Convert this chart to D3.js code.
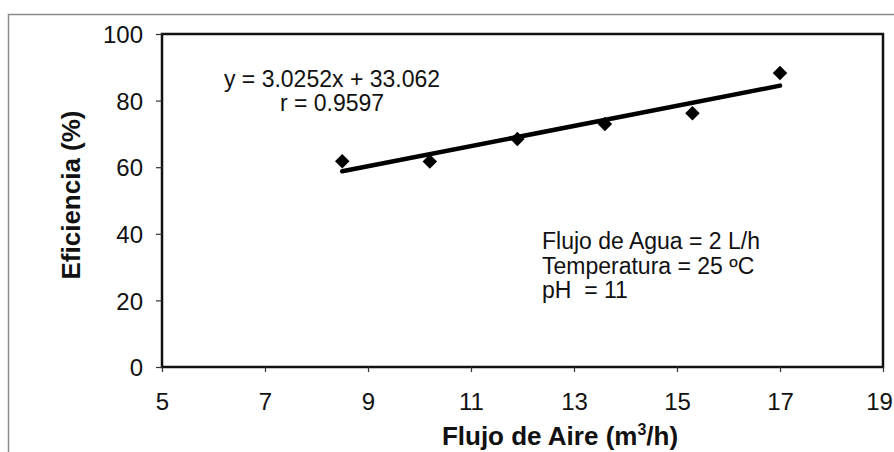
<!DOCTYPE html>
<html>
<head>
<meta charset="utf-8">
<script src="https://cdn.jsdelivr.net/npm/d3@7"></script>
<style>
  html, body { margin: 0; padding: 0; background: #fff; }
  svg { display: block; }
  text { font-family: "Liberation Sans", Arial, sans-serif; fill: #111; }
</style>
</head>
<body>
<svg id="chart" width="894" height="452"></svg>
<script>
// ---- data ----
const airFlow = [8.5, 10.2, 11.9, 13.6, 15.3, 17.0];
const efficiency = [61.8, 61.7, 68.5, 73.0, 76.2, 88.3];
const slope = 3.0252;
const intercept = 33.062;
const xTicks = [5, 7, 9, 11, 13, 15, 17, 19];
const yTicks = [0, 20, 40, 60, 80, 100];
const equationLines = ["y = 3.0252x + 33.062", "r = 0.9597"];
const conditionLines = ["Flujo de Agua = 2 L/h", "Temperatura = 25 ºC", "pH  = 11"];

const svg = d3.select("#chart");
const W = 894, H = 452;
const plot = { left: 162, right: 883, top: 34, bottom: 367 };

const x = d3.scaleLinear().domain([5, 19]).range([plot.left, plot.right]);
const y = d3.scaleLinear().domain([0, 100]).range([plot.bottom, plot.top]);

// outer frame
svg.append("rect")
  .attr("x", 8.5).attr("y", 14.5)
  .attr("width", W + 10).attr("height", H + 10)
  .attr("fill", "none").attr("stroke", "#8a8a8a").attr("stroke-width", 1.5);

// plot border
svg.append("rect")
  .attr("x", plot.left).attr("y", plot.top)
  .attr("width", plot.right - plot.left).attr("height", plot.bottom - plot.top)
  .attr("fill", "none").attr("stroke", "#111").attr("stroke-width", 2.5);

// y axis
const yAxis = svg.append("g")
  .attr("transform", `translate(${plot.left},0)`)
  .call(d3.axisLeft(y).tickValues(yTicks).tickSize(6).tickPadding(13).tickFormat(d3.format("d")));
yAxis.select(".domain").remove();
yAxis.selectAll(".tick line").attr("stroke", "#333").attr("stroke-width", 1.2);
yAxis.selectAll(".tick text")
  .attr("font-size", 24).attr("font-family", "Liberation Sans, Arial, sans-serif")
  .attr("fill", "#111").attr("dy", "0.36em");

// x axis
const xAxis = svg.append("g")
  .attr("transform", `translate(0,${plot.bottom})`)
  .call(d3.axisBottom(x).tickValues(xTicks).tickSize(5).tickFormat(d3.format("d")));
xAxis.select(".domain").remove();
xAxis.selectAll(".tick line").attr("stroke", "#333").attr("stroke-width", 1.2);
xAxis.selectAll(".tick text")
  .attr("font-size", 24).attr("font-family", "Liberation Sans, Arial, sans-serif")
  .attr("fill", "#111").attr("y", 43).attr("dy", 0)
  .attr("dx", d => d === 19 ? -4 : 0);

// axis titles
svg.append("text")
  .attr("x", 560).attr("y", 445)
  .attr("text-anchor", "middle")
  .attr("font-size", 26).attr("font-weight", "bold")
  .call(t => {
    t.append("tspan").text("Flujo de Aire (m");
    t.append("tspan").attr("font-size", 16).attr("dy", -10).text("3");
    t.append("tspan").attr("dy", 10).text("/h)");
  });

svg.append("text")
  .attr("transform", `translate(80,${(108 + 282) / 2}) rotate(-90)`)
  .attr("text-anchor", "middle")
  .attr("font-size", 26).attr("font-weight", "bold")
  .text("Eficiencia (%)");

// trend line
const trend = [airFlow[0], airFlow[airFlow.length - 1]].map(v => [v, slope * v + intercept]);
svg.append("path")
  .datum(trend)
  .attr("d", d3.line().x(d => x(d[0])).y(d => y(d[1])))
  .attr("fill", "none").attr("stroke", "#000").attr("stroke-width", 4.5)
  .attr("stroke-linecap", "round");

// points (diamonds)
svg.append("g").selectAll("path")
  .data(airFlow.map((v, i) => [v, efficiency[i]]))
  .join("path")
  .attr("d", d3.symbol().type(d3.symbolSquare).size(105))
  .attr("transform", d => `translate(${x(d[0])},${y(d[1])}) rotate(45)`)
  .attr("fill", "#000");

// equation annotation
svg.append("g").selectAll("text")
  .data(equationLines)
  .join("text")
  .attr("x", 332).attr("y", (d, i) => 87 + i * 24)
  .attr("text-anchor", "middle")
  .attr("font-size", 23)
  .text(d => d);

// conditions annotation
svg.append("g").selectAll("text")
  .data(conditionLines)
  .join("text")
  .attr("x", 542).attr("y", (d, i) => 249 + i * 24.5)
  .attr("font-size", 23)
  .attr("xml:space", "preserve")
  .style("white-space", "pre")
  .text(d => d);
</script>
</body>
</html>
